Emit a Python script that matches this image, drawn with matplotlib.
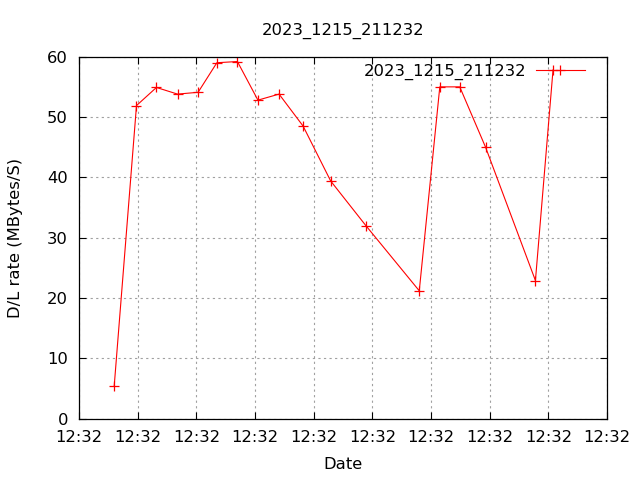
import matplotlib
matplotlib.use('Agg')
import matplotlib.pyplot as plt

# elapsed seconds since first tick, and download rate
secs = [6.0, 9.8, 13.2, 16.8, 20.3, 23.5, 27.0, 30.5, 34.1, 38.2, 42.9, 48.9,
        58.0, 61.5, 64.9, 69.3, 77.8, 80.8]
rate = [5.4, 51.9, 54.9, 53.8, 54.1, 59.0, 59.2, 52.8, 53.8, 48.5, 39.4, 32.0,
        21.2, 55.0, 55.0, 45.0, 22.9, 57.8]
xticks = [0, 10, 20, 30, 40, 50, 60, 70, 80, 90]
xlabels = ['12:32'] * len(xticks)
yticks = [0, 10, 20, 30, 40, 50, 60]
name = '2023_1215_211232'

plt.rcParams['font.family'] = 'DejaVu Sans'
fig = plt.figure(figsize=(6.4, 4.8), dpi=100)
ax = fig.add_axes([79/640, 1-418.7/480, (607-79)/640, (418.7-56.7)/480])

ax.plot(secs, rate, color='red', lw=0.8, marker='+', ms=7, mew=0.9, label=name)

ax.set_xlim(0, 90)
ax.set_ylim(0, 60)
ax.set_xticks(xticks)
ax.set_xticklabels(xlabels)
ax.set_yticks(yticks)
ax.tick_params(direction='in', length=5, width=0.8, top=True, right=True,
               labelsize=11.8, pad=8, colors='black')
ax.grid(True, color='#a0a0a0', lw=0.8, linestyle=(0, (2, 3)))
for s in ax.spines.values():
    s.set_linewidth(0.9)

ax.set_title(name, fontsize=11.8, pad=16)
ax.set_xlabel('Date', fontsize=11.8, labelpad=9)
ax.set_ylabel('D/L rate (MBytes/S)', fontsize=11.8, labelpad=17)

ax.legend(loc='upper right', frameon=False, markerfirst=False, fontsize=11.8,
          handlelength=3.0, handletextpad=0.6, numpoints=1,
          bbox_to_anchor=(0.98, 1.013), borderaxespad=0.3)

fig.savefig('out.png', dpi=100)
